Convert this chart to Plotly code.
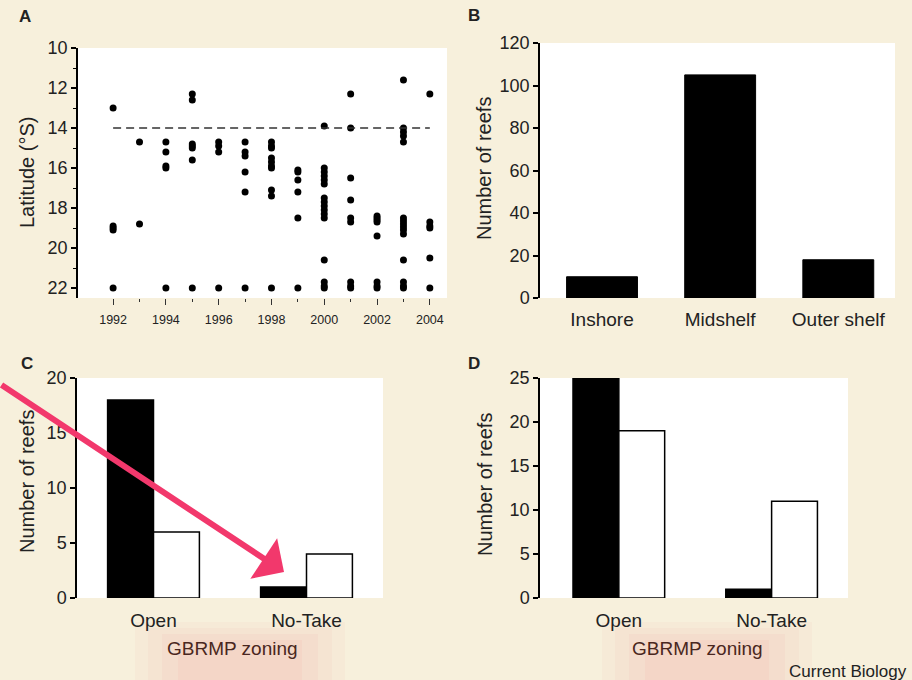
import plotly.graph_objects as go

W, H = 912, 680

# ---------------- data ----------------
years = list(range(1992, 2005))
lat_1992 = [13.0, 18.9, 19.0, 19.1, 22.0]
lat_1993 = [14.7, 18.8]
lat_1994 = [14.7, 15.2, 15.9, 16.0, 22.0]
lat_1995 = [12.3, 12.6, 14.8, 14.9, 15.0, 15.6, 22.0]
lat_1996 = [14.7, 14.9, 15.2, 22.0]
lat_1997 = [14.7, 15.2, 15.4, 16.2, 17.2, 22.0]
lat_1998 = [14.7, 14.9, 15.0, 15.5, 15.7, 15.9, 16.0, 17.1, 17.4, 22.0]
lat_1999 = [16.1, 16.2, 16.6, 17.2, 18.5, 22.0]
lat_2000 = [13.9, 16.0, 16.2, 16.4, 16.6, 16.8, 17.5, 17.7, 17.9, 18.1, 18.3, 18.5,
            20.6, 21.7, 21.9, 22.0]
lat_2001 = [12.3, 14.0, 16.5, 17.6, 18.5, 18.7, 21.7, 21.9, 22.0]
lat_2002 = [18.4, 18.5, 18.6, 18.7, 19.4, 21.7, 21.9, 22.0]
lat_2003 = [11.6, 14.0, 14.2, 14.4, 14.7, 18.5, 18.65, 18.8, 18.95, 19.1, 19.3,
            20.6, 21.7, 21.9, 22.0]
lat_2004 = [12.3, 18.7, 18.9, 19.0, 20.5, 22.0]
lat_by_year = [lat_1992, lat_1993, lat_1994, lat_1995, lat_1996, lat_1997, lat_1998,
               lat_1999, lat_2000, lat_2001, lat_2002, lat_2003, lat_2004]
threshold_lat = 14

shelf_cats = ["Inshore", "Midshelf", "Outer shelf"]
shelf_counts = [10, 105, 18]

zone_cats = ["Open", "No-Take"]
c_black = [18, 1]
c_white = [6, 4]
d_black = [25, 1]
d_white = [19, 11]

# ---------------- helpers ----------------
def px_x(p):
    return p / W

def px_y(p):
    return 1 - p / H

FONT = "Liberation Sans, Arial, Helvetica, sans-serif"
TXT = "#222222"
BG = "#f7f0dc"

fig = go.Figure()

# Panel A scatter
xs, ys = [], []
for yr, lats in zip(years, lat_by_year):
    xs += [yr] * len(lats)
    ys += lats
fig.add_trace(go.Scatter(x=xs, y=ys, mode="markers", xaxis="x", yaxis="y",
                         marker=dict(color="black", size=7), showlegend=False,
                         hoverinfo="x+y"))

# Panel B bars
fig.add_trace(go.Bar(x=shelf_cats, y=shelf_counts, xaxis="x2", yaxis="y2", width=0.6,
                     marker=dict(color="black", line=dict(color="black", width=1)),
                     showlegend=False))

# Panel C bars
fig.add_trace(go.Bar(x=zone_cats, y=c_black, xaxis="x3", yaxis="y3",
                     marker=dict(color="black", line=dict(color="black", width=1.5)),
                     showlegend=False, offsetgroup="a"))
fig.add_trace(go.Bar(x=zone_cats, y=c_white, xaxis="x3", yaxis="y3",
                     marker=dict(color="white", line=dict(color="black", width=1.5)),
                     showlegend=False, offsetgroup="b"))

# Panel D bars
fig.add_trace(go.Bar(x=zone_cats, y=d_black, xaxis="x4", yaxis="y4",
                     marker=dict(color="black", line=dict(color="black", width=1.5)),
                     showlegend=False, offsetgroup="a"))
fig.add_trace(go.Bar(x=zone_cats, y=d_white, xaxis="x4", yaxis="y4",
                     marker=dict(color="white", line=dict(color="black", width=1.5)),
                     showlegend=False, offsetgroup="b"))

yax_common = dict(showline=True, linecolor="black", linewidth=1.5, ticks="outside",
                  ticklen=5, tickwidth=1.5, tickcolor="black", showgrid=False,
                  zeroline=False, automargin=False,
                  tickfont=dict(size=18, color=TXT, family=FONT))
xcat_common = dict(showline=False, ticks="", showgrid=False, zeroline=False,
                   automargin=False, tickfont=dict(size=19, color=TXT, family=FONT))

fig.update_layout(
    width=W, height=H, autosize=False,
    margin=dict(l=0, r=0, t=0, b=0, pad=0, autoexpand=False),
    paper_bgcolor=BG, plot_bgcolor="white",
    font=dict(family=FONT, color=TXT),
    showlegend=False,
    barmode="group", bargap=0.4, bargroupgap=0,
    # Panel A
    xaxis=dict(domain=[px_x(78), px_x(447)], range=[1990.67, 2004.65],
               showline=False, showgrid=False, zeroline=False, automargin=False,
               tickvals=years[::2], ticktext=[str(y) for y in years[::2]],
               ticks="outside", ticklen=6, tickwidth=1.2, tickcolor="#333",
               minor=dict(ticks="outside", ticklen=3, tickwidth=1, tickcolor="#333",
                          tickvals=years[1::2]),
               tickfont=dict(size=12.5, color=TXT, family=FONT),
               ticklabelstandoff=4),
    yaxis=dict(domain=[px_y(298), px_y(48)], range=[22.5, 10],
               tickvals=list(range(10, 23, 2)),
               minor=dict(ticks="outside", ticklen=3, tickwidth=1, tickcolor="black",
                          tickvals=list(range(11, 23, 2))),
               **yax_common),
    # Panel B
    xaxis2=dict(domain=[px_x(540), px_x(895)], range=[-0.525, 2.48], anchor="y2",
                ticklabelstandoff=8, **xcat_common),
    yaxis2=dict(domain=[px_y(298), px_y(43)], range=[0, 120], dtick=20, anchor="x2",
                **yax_common),
    # Panel C
    xaxis3=dict(domain=[px_x(77), px_x(383)], range=[-0.5, 1.5], anchor="y3",
                ticklabelstandoff=9, **xcat_common),
    yaxis3=dict(domain=[px_y(598), px_y(378)], range=[0, 20], dtick=5, anchor="x3",
                **yax_common),
    # Panel D
    xaxis4=dict(domain=[px_x(540), px_x(848)], range=[-0.516, 1.5], anchor="y4",
                ticklabelstandoff=9, **xcat_common),
    yaxis4=dict(domain=[px_y(598), px_y(378)], range=[0, 25], dtick=5, anchor="x4",
                **yax_common),
)

# dashed reference line in A
fig.add_shape(type="line", xref="x", yref="y", x0=years[0], x1=years[-1],
              y0=threshold_lat, y1=threshold_lat,
              line=dict(color="#333", width=1.3, dash="8px,5px"))

# soft pink glow behind zoning titles (stacked translucent rects)
for cx in [240, 707]:
    for hw, top, a in [(105, 622, 0.07), (92, 628, 0.08), (78, 634, 0.09), (62, 640, 0.10)]:
        fig.add_shape(type="rect", xref="paper", yref="paper",
                      x0=px_x(cx - hw), x1=px_x(cx + hw), y0=px_y(680), y1=px_y(top),
                      fillcolor=f"rgba(245,160,150,{a})", line=dict(width=0),
                      layer="below")

ann = []
# panel letters
for t, x, y in [("A", 25, 16), ("B", 474, 15), ("C", 27, 363), ("D", 474, 363)]:
    ann.append(dict(text=f"<b>{t}</b>", x=px_x(x), y=px_y(y), xref="paper", yref="paper",
                    showarrow=False, font=dict(size=17, color=TXT, family=FONT),
                    xanchor="center", yanchor="middle"))
# y titles
for t, x, y in [("Latitude (°S)", 27, 173), ("Number of reefs", 484, 169),
                ("Number of reefs", 27, 482), ("Number of reefs", 485, 485)]:
    ann.append(dict(text=t, x=px_x(x), y=px_y(y), xref="paper", yref="paper",
                    showarrow=False, textangle=-90,
                    font=dict(size=20, color=TXT, family=FONT),
                    xanchor="center", yanchor="middle"))
# x titles
for x in [232, 697]:
    ann.append(dict(text="GBRMP zoning", x=px_x(x), y=px_y(648), xref="paper", yref="paper",
                    showarrow=False, font=dict(size=19, color="#4a2620", family=FONT),
                    xanchor="center", yanchor="middle"))
ann.append(dict(text="Current Biology", x=px_x(909), y=px_y(671), xref="paper", yref="paper",
                showarrow=False, font=dict(size=17, color=TXT, family=FONT),
                xanchor="right", yanchor="middle"))
# red arrow in C
ann.append(dict(text="", x=px_x(284), y=px_y(572), xref="paper", yref="paper",
                showarrow=True, ax=-295, ay=-188, arrowhead=1, arrowsize=1.35,
                arrowwidth=6, arrowcolor="#f2386c", standoff=0))
fig.update_layout(annotations=ann)

fig.write_html(
    "out.html",
    config={"responsive": False, "displayModeBar": False},
    post_script="document.body.style.margin='0';document.body.style.overflow='hidden';",
)
